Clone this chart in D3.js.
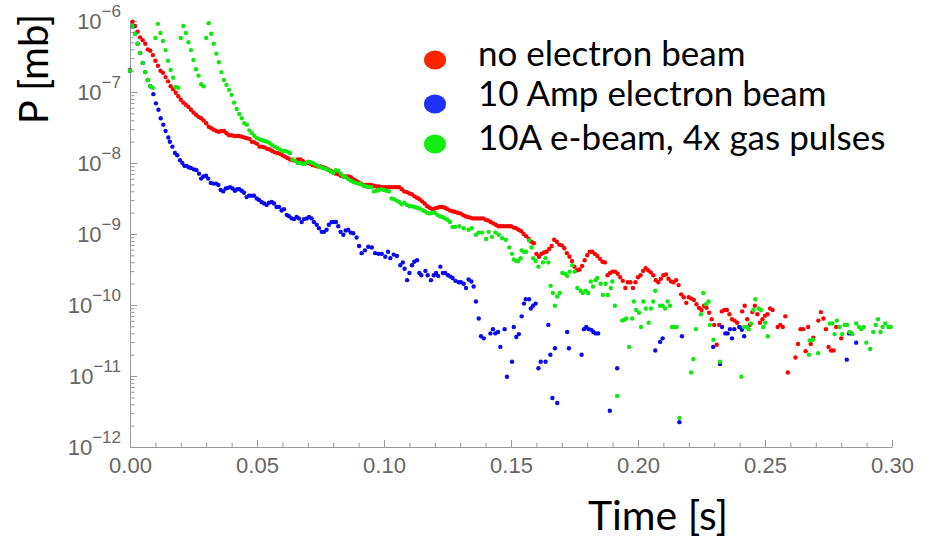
<!DOCTYPE html>
<html>
<head>
<meta charset="utf-8">
<script src="https://cdn.jsdelivr.net/npm/d3@7"></script>
<style>
  body { margin: 0; background: #fff; }
  text { font-family: "Liberation Sans", Arial, sans-serif; }
</style>
</head>
<body>
<svg id="chart" width="934" height="540"></svg>
<script>
// each point: [time in ms, log10 of pressure in mb]
const noBeam = [
  [0,-6.69],[1,-6.01],[2,-6.07],[3,-6.15],[4,-6.23],[5,-6.27],[6,-6.32],[7,-6.40],[8,-6.42],[9,-6.48],
  [10,-6.56],[11,-6.63],[12,-6.70],[13,-6.73],[14,-6.79],[15,-6.85],[16,-6.92],[17,-6.96],[18,-7.01],[19,-7.06],
  [20,-7.11],[21,-7.15],[22,-7.18],[23,-7.21],[24,-7.25],[25,-7.29],[26,-7.32],[27,-7.35],[28,-7.37],[29,-7.40],
  [30,-7.44],[31,-7.49],[32,-7.51],[33,-7.53],[34,-7.55],[35,-7.56],[36,-7.55],[37,-7.55],[38,-7.58],[39,-7.61],
  [40,-7.61],[41,-7.62],[42,-7.62],[43,-7.62],[44,-7.63],[45,-7.64],[46,-7.65],[47,-7.66],[48,-7.70],[49,-7.71],
  [50,-7.73],[51,-7.77],[52,-7.77],[53,-7.78],[54,-7.80],[55,-7.81],[56,-7.83],[57,-7.85],[58,-7.86],[59,-7.87],
  [60,-7.89],[61,-7.91],[62,-7.93],[63,-7.95],[64,-7.96],[65,-7.97],[66,-7.95],[67,-7.95],[68,-7.97],[69,-8.00],
  [70,-8.00],[71,-8.01],[72,-8.03],[73,-8.04],[74,-8.05],[75,-8.05],[76,-8.06],[77,-8.07],[78,-8.09],[79,-8.11],
  [80,-8.13],[81,-8.15],[82,-8.16],[83,-8.18],[84,-8.19],[85,-8.19],[86,-8.19],[87,-8.20],[88,-8.23],[89,-8.25],
  [90,-8.27],[91,-8.29],[92,-8.31],[93,-8.31],[94,-8.31],[95,-8.31],[96,-8.32],[97,-8.33],[98,-8.33],[99,-8.34],
  [100,-8.34],[101,-8.34],[102,-8.34],[103,-8.34],[104,-8.34],[105,-8.34],[106,-8.34],[107,-8.37],[108,-8.40],[109,-8.41],
  [110,-8.43],[111,-8.44],[112,-8.47],[113,-8.49],[114,-8.51],[115,-8.54],[116,-8.57],[117,-8.61],[118,-8.63],[119,-8.65],
  [120,-8.64],[121,-8.63],[122,-8.62],[123,-8.62],[124,-8.63],[125,-8.65],[126,-8.67],[127,-8.68],[128,-8.69],[129,-8.70],
  [130,-8.71],[131,-8.73],[132,-8.75],[133,-8.76],[134,-8.77],[135,-8.78],[136,-8.78],[137,-8.78],[138,-8.78],[139,-8.78],
  [140,-8.80],[141,-8.81],[142,-8.83],[143,-8.85],[144,-8.87],[145,-8.89],[146,-8.89],[147,-8.89],[148,-8.89],[149,-8.89],
  [150,-8.89],[151,-8.91],[152,-8.92],[153,-8.94],[154,-8.96],[155,-9.00],[156,-9.03],[157,-9.07],[158,-9.11],[159,-9.13],
  [160,-9.28],[161,-9.32],[162,-9.28],[163,-9.26],[164,-9.25],[165,-9.21],[166,-9.17],[167,-9.08],[168,-9.11],[169,-9.15],
  [170,-9.16],[171,-9.20],[172,-9.27],[173,-9.32],[174,-9.38],[175,-9.46],[176,-9.51],[177,-9.50],[178,-9.45],[179,-9.37],
  [180,-9.30],[181,-9.25],[182,-9.25],[183,-9.28],[184,-9.31],[185,-9.35],[186,-9.39],[187,-9.40],[188,-9.58],[189,-9.55],
  [190,-9.53],[191,-9.53],[192,-9.56],[193,-9.61],[194,-9.66],[195,-9.76],[196,-9.68],[197,-9.68],[198,-9.76],[199,-9.68],
  [200,-9.61],[201,-9.58],[202,-9.52],[203,-9.48],[204,-9.51],[205,-9.54],[206,-9.58],[207,-9.65],[208,-9.68],[209,-9.63],
  [210,-9.58],[211,-9.57],[212,-9.63],[213,-9.67],[214,-9.68],[215,-9.65],[216,-9.72],[217,-9.85],[218,-9.89],[219,-9.97],
  [220,-9.89],[221,-9.91],[222,-9.93],[223,-9.99],[224,-10.04],[225,-10.07],[226,-10.01],[227,-10.04],[228,-10.11],[229,-10.20],
  [230,-10.28],[231,-10.56],[232,-10.28],[233,-10.09],[234,-10.07],[235,-10.07],[236,-10.13],[237,-10.20],[238,-10.22],[239,-10.25],
  [240,-10.31],[241,-10.09],[242,-10.01],[243,-10.20],[244,-10.28],[245,-10.10],[246,-10.01],[247,-10.13],[248,-10.25],[249,-10.20],
  [250,-10.15],[251,-10.13],[252,-10.05],[253,-10.07],[255,-10.31],[256,-10.28],[257,-10.31],[258,-10.16],[259,-10.95],
  [262,-10.74],[263,-10.55],[264,-10.34],[265,-10.34],[266,-10.65],[267,-10.31],[268,-10.55],[269,-10.46],
  [271,-10.22],[272,-10.10],[273,-10.19],[274,-10.34],[275,-10.59],[276,-10.64],[277,-10.64],[278,-10.31],[280,-10.47]
];

const beam10A = [
  [0,-6.70],[1,-6.07],[2,-6.18],[3,-6.32],[4,-6.45],[5,-6.59],[6,-6.72],[7,-6.83],[8,-6.92],
  [9.2,-7.03],[10.2,-7.16],[11.2,-7.25],[12.1,-7.37],[13.1,-7.46],[14,-7.55],[15.1,-7.64],[15.7,-7.70],[16.7,-7.77],[17.7,-7.86],
  [18.6,-7.89],[19.7,-7.96],[20.6,-8.00],[21.4,-8.04],[22.3,-8.04],[23.1,-8.06],[24,-8.07],[25.2,-8.09],[26.2,-8.10],[27.2,-8.15],
  [28,-8.22],[28.9,-8.19],[29.9,-8.18],[30.8,-8.22],[31.8,-8.28],[32.8,-8.29],[33.9,-8.29],[34.8,-8.31],[35.7,-8.38],[36.7,-8.40],
  [37.7,-8.36],[38.5,-8.35],[39.4,-8.34],[40.4,-8.36],[41.3,-8.39],[42.2,-8.37],[43,-8.37],[44,-8.39],[44.9,-8.42],[45.9,-8.48],
  [46.9,-8.46],[47.9,-8.46],[48.8,-8.46],[49.9,-8.50],[50.8,-8.52],[51.8,-8.55],[52.8,-8.57],[53.8,-8.59],[54.7,-8.56],[55.8,-8.55],
  [56.7,-8.57],[57.7,-8.62],[58.7,-8.62],[59.7,-8.67],[60.6,-8.65],[61.7,-8.73],[62.6,-8.75],[63.7,-8.78],[64.6,-8.79],[65.6,-8.76],
  [66.5,-8.78],[67.6,-8.83],[68.5,-8.79],[69.6,-8.78],[70.5,-8.76],[71.5,-8.78],[72.4,-8.83],[73.5,-8.87],[74.4,-8.92],[75.5,-8.97],
  [76.4,-8.97],[77.4,-8.94],[78.3,-8.87],[79.4,-8.83],[80.3,-8.83],[81.1,-8.83],[82,-8.89],[82.9,-8.97],[84,-9.01],[84.9,-8.95],
  [85.9,-8.94],[86.9,-8.98],[87.9,-8.99],[89.2,-9.05],[90.2,-9.17],[91.2,-9.27],[92.5,-9.23],[93.8,-9.18],[95.2,-9.19],[96.5,-9.27],
  [97.8,-9.28],[99.1,-9.28],[100.5,-9.32],[101.6,-9.25],[102.5,-9.34],[103.8,-9.29],[105.1,-9.31],[106.4,-9.44],[107.4,-9.40],[108.1,-9.49],
  [109.1,-9.65],[110,-9.55],[111,-9.44],[111.9,-9.39],[113,-9.37],[113.9,-9.55],[114.7,-9.58],[116.3,-9.52],[117.2,-9.58],[118.5,-9.65],
  [119.6,-9.58],[120.5,-9.55],[121.3,-9.59],[122.2,-9.46],[123.2,-9.55],[124.1,-9.55],[125.2,-9.58],[126.1,-9.60],[127,-9.62],[128.1,-9.66],
  [129.4,-9.68],[130.3,-9.68],[131.4,-9.70],[132.3,-9.76],[133.3,-9.64],[134.4,-9.67],[135.3,-9.74],[136.2,-9.95],[137.3,-10.19],[138.2,-10.44],
  [139.3,-10.47],[141.9,-10.40],[142.9,-10.34],[143.8,-10.40],[144.9,-10.38],[145.8,-10.59],[147.5,-10.34],[148.4,-11.01],[150.4,-10.80],[151.1,-10.31],
  [152.1,-10.45],[153.1,-10.41],[154.2,-10.16],[155.1,-9.98],[155.8,-9.92],[157.1,-9.92],[157.8,-10.05],[158.7,-10.01],[159.7,-9.98],[160.8,-10.89],
  [161.7,-10.80],[163.6,-10.80],[164.7,-10.28],[165.5,-10.70],[166.3,-11.31],[167.3,-10.61],[168.2,-11.38],[172.1,-10.38],[172.8,-10.61],[177.8,-10.70],
  [178.7,-10.34],[179.6,-10.31],[180.6,-10.34],[181.6,-10.35],[182.4,-10.38],[183.3,-10.40],[184.3,-10.40],[188.9,-11.49],[191.8,-10.89],[206.8,-10.64],
  [208.7,-10.52],[209.7,-10.47],[216.3,-11.65],[217.3,-10.44],[229.6,-10.59],[232.3,-10.83],[233.1,-10.31],[234.4,-10.40],[235.3,-10.40],[236.2,-10.34],
  [237,-10.47],[237.9,-10.34],[239.9,-10.31],[240.9,-10.35],[241.8,-10.44],[282.2,-10.77],[283.1,-10.40],[284,-10.40],[285.9,-10.53]
];

const beamPulses = [
  [0,-6.70],[1,-6.07],[2,-6.18],[3,-6.32],[4,-6.45],[5,-6.59],[6,-6.72],[7,-6.83],[8,-6.92],[9,-6.94],
  [10,-6.24],[11,-6.04],[12,-6.17],[13,-6.28],[14,-6.41],[15,-6.56],[16,-6.69],[17,-6.80],[18,-6.93],[19,-6.94],
  [20,-6.24],[21,-6.07],[22,-6.17],[23,-6.30],[24,-6.41],[25,-6.55],[26,-6.68],[27,-6.77],[28,-6.89],[29,-6.92],
  [30,-6.24],[31,-6.03],[32,-6.18],[33,-6.32],[34,-6.46],[35,-6.58],[36,-6.72],[37,-6.83],[38,-6.90],[39,-6.97],
  [40,-7.04],[41,-7.15],[42,-7.24],[43,-7.31],[44,-7.37],[45,-7.44],[46,-7.46],[47,-7.54],[48,-7.58],[49,-7.62],
  [50,-7.65],[51,-7.67],[52,-7.68],[53,-7.69],[54,-7.70],[55,-7.72],[56,-7.75],[57,-7.77],[58,-7.79],[59,-7.81],
  [60,-7.83],[61,-7.83],[62,-7.84],[63,-7.86],[64,-7.95],[65,-7.97],[66,-8.00],[67,-8.00],[68,-8.01],[69,-8.01],
  [70,-7.98],[71,-7.99],[72,-8.00],[73,-8.02],[74,-8.04],[75,-8.06],[76,-8.07],[77,-8.08],[78,-8.10],[79,-8.12],
  [80,-8.14],[81,-8.10],[82,-8.11],[83,-8.15],[84,-8.19],[85,-8.20],[86,-8.23],[87,-8.25],[88,-8.27],[89,-8.28],
  [90,-8.29],[91,-8.30],[92,-8.32],[93,-8.33],[94,-8.34],[95,-8.34],[96,-8.40],[97,-8.39],[98,-8.38],[99,-8.37],
  [100,-8.38],[101,-8.39],[102,-8.40],[103,-8.50],[104,-8.51],[105,-8.53],[106,-8.55],[107,-8.58],[108,-8.56],[109,-8.59],
  [110,-8.61],[111,-8.61],[112,-8.62],[113,-8.63],[114,-8.64],[115,-8.66],[116,-8.68],[117,-8.70],[118,-8.71],[119,-8.70],
  [120,-8.70],[121,-8.73],[122,-8.75],[123,-8.76],[124,-8.78],[125,-8.80],[126,-8.83],[127,-8.90],[128,-8.90],[129.6,-8.89],
  [131.4,-8.92],[133.3,-8.94],[134.6,-8.92],[136.2,-9.01],[137.3,-8.98],[138.6,-8.98],[140.2,-9.07],[141.2,-8.97],[142.5,-9.04],[143.8,-8.98],
  [145.2,-9.01],[146.5,-9.06],[148,-9.08],[149.3,-9.19],[150.4,-9.28],[151.1,-9.36],[152.1,-9.38],[152.9,-9.38],[153.8,-9.34],[154.2,-9.23],
  [155.1,-9.25],[156,-9.25],[157.1,-9.09],[158.1,-9.19],[158.7,-9.34],[159.7,-9.38],[160.8,-9.46],[162.6,-9.40],[163.6,-9.34],[164.7,-9.40],
  [165.6,-9.73],[166.5,-9.83],[167.3,-10.01],[168.2,-9.88],[169.2,-9.83],[170.2,-9.55],[171.3,-9.56],[172.1,-9.59],[173.1,-9.53],[174.1,-9.44],
  [175,-9.53],[176.1,-9.76],[177.4,-9.80],[178.3,-9.83],[179.4,-9.80],[180.4,-9.83],[181.4,-9.67],[182.3,-9.74],[183.3,-9.65],[184,-9.62],
  [185.3,-9.70],[186.2,-9.86],[187.3,-9.70],[188.1,-9.86],[189.3,-9.76],[189.9,-9.67],[190.9,-10.01],[191.8,-11.28],[193.8,-10.22],[194.5,-10.21],
  [195.4,-10.19],[196.5,-10.59],[197.7,-10.19],[198.4,-9.95],[199.3,-10.07],[200.4,-10.11],[201.2,-10.31],[202.1,-9.95],[203.1,-10.05],[204.2,-10.25],
  [205.1,-10.05],[206,-9.95],[206.8,-9.80],[208.7,-10.01],[209.7,-10.01],[210.7,-10.05],[211.7,-9.95],[212.6,-10.01],[213.4,-10.31],[214.3,-10.31],
  [215.2,-10.31],[216.3,-11.59],[220.9,-10.95],[221.8,-10.76],[222.8,-10.34],[224.8,-10.13],[225.7,-9.83],[226.8,-9.99],[227.8,-9.95],[228.3,-10.28],
  [229.7,-10.49],[232.3,-10.80],[240.7,-11.01],[241.8,-10.31],[242.9,-10.31],[243.6,-10.34],[244.5,-10.26],[245.4,-10.07],[246.2,-9.92],[247.5,-10.05],
  [248.4,-10.07],[249.3,-10.31],[250.1,-10.25],[251.1,-10.44],[267.3,-10.70],[267.6,-10.50],[268.9,-10.49],[270.9,-10.68],[275.5,-10.26],[276.5,-10.26],
  [277.4,-10.41],[278.3,-10.22],[279.4,-10.31],[280.4,-10.41],[281.4,-10.28],[282.3,-10.28],[283.3,-10.38],[284.4,-10.41],[285.9,-10.26],[287,-10.31],
  [287.9,-10.34],[288.9,-10.31],[289.9,-10.53],[291.4,-10.62],[292.6,-10.38],[293.6,-10.28],[294.5,-10.20],[295.5,-10.38],[296.3,-10.31],[297.4,-10.26],
  [298.6,-10.31],[299.5,-10.31]
];

const seriesNames = ["no electron beam", "10 Amp electron beam", "10A e-beam, 4x gas pulses"];
const dotColors = ["#ff0000", "#0a0aee", "#10e810"];
const legendColors = ["#ff2400", "#1e32ff", "#12ee12"];
const xMajorTicks = [0, 0.05, 0.1, 0.15, 0.2, 0.25, 0.3];
const yDecades = [-12, -11, -10, -9, -8, -7, -6];

const svg = d3.select("#chart");

const x = d3.scaleLinear().domain([0, 0.3]).range([130, 892]);
const y = d3.scaleLog().domain([1e-12, 1e-6]).range([447, 21]);

const axisColor = "#999";
const labelColor = "#666";

// x axis: minor ticks every 10 ms, labels on the 50 ms ticks
const xTickValues = d3.range(0, 31).map(i => i / 100);
const isMajorX = d => xMajorTicks.some(m => Math.abs(m - d) < 1e-9);

svg.append("g")
    .attr("transform", "translate(0,447)")
    .call(d3.axisBottom(x)
      .tickValues(xTickValues)
      .tickSizeInner(-7)
      .tickSizeOuter(0)
      .tickPadding(10)
      .tickFormat(d => isMajorX(d) ? d3.format(".2f")(d) : ""))
    .call(g => g.select(".domain").attr("stroke", axisColor))
    .call(g => g.selectAll(".tick line")
      .attr("stroke", axisColor)
      .attr("y2", d => isMajorX(d) ? -7 : -4.5))
    .call(g => g.selectAll(".tick text")
      .attr("fill", labelColor)
      .style("font-size", "22px")
      .style("font-family", "'Liberation Sans', Arial, sans-serif"));

// y axis: log ticks, labels drawn as 10 with superscript exponent
const yTickValues = [];
yDecades.forEach(e => {
  const n = e === -6 ? 1 : 9;
  for (let m = 1; m <= n; m++) yTickValues.push(m * Math.pow(10, e));
});
const isMajorY = d => Math.abs(Math.log10(d) - Math.round(Math.log10(d))) < 1e-9;

svg.append("g")
    .attr("transform", "translate(130,0)")
    .call(d3.axisLeft(y)
      .tickValues(yTickValues)
      .tickSizeInner(-7)
      .tickSizeOuter(0)
      .tickFormat(() => ""))
    .call(g => g.select(".domain").attr("stroke", axisColor))
    .call(g => g.selectAll(".tick line")
      .attr("stroke", axisColor)
      .attr("x2", d => isMajorY(d) ? 7 : 4.5));

const yLabels = svg.append("g")
    .attr("fill", labelColor)
    .attr("text-anchor", "end");

yDecades.forEach(e => {
  const t = yLabels.append("text")
      .attr("x", 121)
      .attr("y", y(Math.pow(10, e)) + 8);
  t.append("tspan").style("font-size", "22px").text("10");
  t.append("tspan").style("font-size", "17px").attr("dy", -12).text("\u2212" + Math.abs(e));
});

// data points
const series = [noBeam, beam10A, beamPulses];
series.forEach((data, i) => {
  svg.append("g")
    .selectAll("circle")
    .data(data)
    .join("circle")
      .attr("cx", d => x(d[0] / 1000))
      .attr("cy", d => y(Math.pow(10, d[1])))
      .attr("r", 2.2)
      .attr("fill", dotColors[i]);
});

// axis titles
svg.append("text")
    .attr("x", 658)
    .attr("y", 530)
    .attr("text-anchor", "middle")
    .style("font-family", "Lato, 'Open Sans', sans-serif")
    .style("font-size", "41px")
    .attr("fill", "#000")
    .text("Time [s]");

svg.append("text")
    .attr("transform", "translate(48,69) rotate(-90)")
    .attr("text-anchor", "middle")
    .style("font-family", "Lato, 'Open Sans', sans-serif")
    .style("font-size", "40px")
    .attr("fill", "#000")
    .text("P [mb]");

// legend
const legendRows = [
  {dotY: 60, textY: 66},
  {dotY: 104, textY: 106},
  {dotY: 144, textY: 150}
];
const legend = svg.append("g");
seriesNames.forEach((name, i) => {
  legend.append("ellipse")
      .attr("cx", 435)
      .attr("cy", legendRows[i].dotY)
      .attr("rx", 11)
      .attr("ry", 9.5)
      .attr("fill", legendColors[i]);
  legend.append("text")
      .attr("x", 478)
      .attr("y", legendRows[i].textY)
      .style("font-family", "Lato, 'Open Sans', sans-serif")
      .style("font-size", "35px")
      .attr("fill", "#000")
      .text(name);
});
</script>
</body>
</html>
